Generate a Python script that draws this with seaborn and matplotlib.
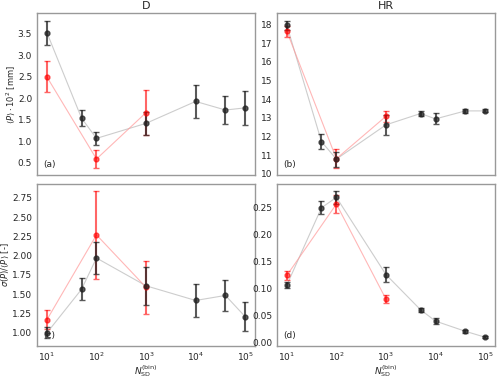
import numpy as np
import matplotlib
matplotlib.use('Agg')
import matplotlib.pyplot as plt
import seaborn as sns

sns.set_style('white')
plt.rcParams['font.family'] = ['DejaVu Sans']
plt.rcParams['mathtext.fontset'] = 'dejavusans'

# N_SD^(bin) values
n_d_black = [10, 50, 100, 1000, 10000, 40000, 100000]
n_hr_black = [10, 50, 100, 1000, 5000, 10000, 40000, 100000]
n_red = [10, 100, 1000]

# (a) D mean
d_mean_black = [3.53, 1.54, 1.07, 1.42, 1.93, 1.73, 1.78]
d_mean_black_err = [0.28, 0.19, 0.15, 0.26, 0.38, 0.33, 0.40]
d_mean_red = [2.50, 0.59, 1.67]
d_mean_red_err = [0.36, 0.21, 0.52]

# (b) HR mean
hr_mean_black = [17.97, 11.72, 10.78, 12.62, 13.23, 12.94, 13.37, 13.37]
hr_mean_black_err = [0.25, 0.40, 0.40, 0.55, 0.15, 0.30, 0.10, 0.08]
hr_mean_red = [17.65, 10.80, 13.08]
hr_mean_red_err = [0.30, 0.50, 0.30]

# (c) D std/mean
d_cv_black = [1.00, 1.565, 1.97, 1.61, 1.42, 1.485, 1.21]
d_cv_black_err = [0.07, 0.14, 0.21, 0.25, 0.21, 0.20, 0.19]
d_cv_red = [1.17, 2.27, 1.59]
d_cv_red_err = [0.12, 0.57, 0.34]

# (d) HR std/mean
hr_cv_black = [0.106, 0.250, 0.2695, 0.1256, 0.060, 0.039, 0.020, 0.009]
hr_cv_black_err = [0.005, 0.012, 0.012, 0.014, 0.004, 0.006, 0.003, 0.002]
hr_cv_red = [0.124, 0.257, 0.080]
hr_cv_red_err = [0.008, 0.016, 0.008]

fig, axes = plt.subplots(2, 2, figsize=(5, 3.79), dpi=100, sharex=True)
fig.subplots_adjust(left=0.074, right=0.99, top=0.965, bottom=0.088,
                    wspace=0.1, hspace=0.05)


def panel(ax, xb, yb, eb, xr, yr, er, label):
    sns.lineplot(x=xb, y=yb, ax=ax, color='#b8b8b8', lw=0.8, alpha=0.7)
    sns.lineplot(x=xr, y=yr, ax=ax, color='#ff9999', lw=0.8, alpha=0.7)
    ax.errorbar(xr, yr, yerr=er, fmt='o', color='red', ms=3.5,
                capsize=2.5, elinewidth=1.5, alpha=0.6, lw=0)
    ax.errorbar(xb, yb, yerr=eb, fmt='o', color='#222222', ms=3.5,
                capsize=2.5, elinewidth=1.5, alpha=0.75, lw=0)
    ax.set_xscale('log')
    ax.text(0.03, 0.05, label, transform=ax.transAxes, fontsize=6.5)
    ax.tick_params(labelsize=6.5, length=2, color='#888888', pad=1.5)
    ax.tick_params(which='minor', length=1.5, color='#888888')
    for s in ax.spines.values():
        s.set_color('#999999')
        s.set_linewidth(1.0)


panel(axes[0, 0], n_d_black, d_mean_black, d_mean_black_err,
      n_red, d_mean_red, d_mean_red_err, '(a)')
panel(axes[0, 1], n_hr_black, hr_mean_black, hr_mean_black_err,
      n_red, hr_mean_red, hr_mean_red_err, '(b)')
panel(axes[1, 0], n_d_black, d_cv_black, d_cv_black_err,
      n_red, d_cv_red, d_cv_red_err, '(c)')
panel(axes[1, 1], n_hr_black, hr_cv_black, hr_cv_black_err,
      n_red, hr_cv_red, hr_cv_red_err, '(d)')
axes[0, 0].set_xlim(10 ** 0.8, 10 ** 5.2)

axes[0, 0].set_title('D', fontsize=8, pad=3)
axes[0, 1].set_title('HR', fontsize=8, pad=3)
axes[0, 0].set_ylabel(r'$\langle P\rangle \cdot 10^2$ [mm]', fontsize=6, labelpad=0.5)
axes[1, 0].set_ylabel(r'$\sigma(P)/\langle P\rangle$ [-]', fontsize=6, labelpad=0.5)
for ax in axes[1]:
    ax.set_xlabel(r'$N_{\rm SD}^{\rm (bin)}$', fontsize=6.5, labelpad=0)

axes[0, 0].set_yticks([0.5, 1.0, 1.5, 2.0, 2.5, 3.0, 3.5])
axes[0, 1].set_yticks(range(10, 19))
axes[1, 0].set_yticks([1.0, 1.25, 1.5, 1.75, 2.0, 2.25, 2.5, 2.75])
axes[1, 1].set_yticks([0.0, 0.05, 0.10, 0.15, 0.20, 0.25])

fig.savefig('out.png', dpi=100)
